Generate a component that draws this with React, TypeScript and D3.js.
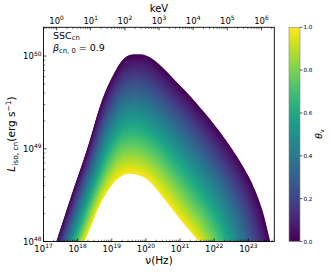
import React from "react";
import * as d3 from "d3";

// ---- data (log10 values) ----
const nuTickExps = [17, 18, 19, 20, 21, 22, 23];
const keVTickExps = [0, 1, 2, 3, 4, 5, 6];
const lumTickExps = [48, 49, 50];
const cbTicks = [0, 0.2, 0.4, 0.6, 0.8, 1.0];

// outermost spectrum (theta_v = 0)
const outerLogNu = [17.375, 17.82, 18.27, 18.72, 19.12, 19.41, 19.8, 20.1, 20.42, 20.9, 21.39, 22.27, 23.01, 23.4, 23.64];
const outerLogL = [48.0, 48.5, 48.99, 49.53, 49.85, 49.99, 50.02, 49.99, 49.9, 49.72, 49.53, 49.13, 48.7, 48.35, 48.0];
// innermost spectrum (theta_v = 1)
const innerLogNu = [18.21, 18.41, 18.66, 18.95, 19.19, 19.52, 20.03, 20.51, 21.0, 21.55];
const innerLogL = [48.0, 48.18, 48.4, 48.58, 48.68, 48.73, 48.67, 48.47, 48.24, 48.0];

const KEV_HZ = 2.418e17;
const W = 332;
const H = 272;
const L = 43.5, R = 274.3, T = 27.3, B = 241.5;
const FONT = "DejaVu Sans";

const x = d3.scaleLog().domain([1e17, Math.pow(10, 23.76)]).range([L, R]);
const y = d3.scaleLog().domain([1e48, Math.pow(10, 50.31)]).range([B, T]);

function hermite(xs: number[], ys: number[], xv: number): number {
  const n = xs.length;
  let i = 0;
  while (i < n - 2 && xv > xs[i + 1]) i++;
  const slope = (k: number) => {
    if (k === 0) return (ys[1] - ys[0]) / (xs[1] - xs[0]);
    if (k === n - 1) return (ys[n - 1] - ys[n - 2]) / (xs[n - 1] - xs[n - 2]);
    return (ys[k + 1] - ys[k - 1]) / (xs[k + 1] - xs[k - 1]);
  };
  const h = xs[i + 1] - xs[i];
  const t = Math.max(0, Math.min(1, (xv - xs[i]) / h));
  const m0 = slope(i) * h, m1 = slope(i + 1) * h;
  const t2 = t * t, t3 = t2 * t;
  return (2 * t3 - 3 * t2 + 1) * ys[i] + (t3 - 2 * t2 + t) * m0 + (-2 * t3 + 3 * t2) * ys[i + 1] + (t3 - t2) * m1;
}

function peakIdx(ys: number[]) {
  let k = 0;
  ys.forEach((v, i) => { if (v > ys[k]) k = i; });
  return k;
}

const NS = 70;
function blendCurve(s: number): [number, number][] {
  const po = peakIdx(outerLogL), pi = peakIdx(innerLogL);
  const pts: [number, number][] = [];
  const seg = (oa: number, ob: number, ia: number, ib: number, skipFirst: boolean) => {
    for (let j = skipFirst ? 1 : 0; j <= NS; j++) {
      const u = j / NS;
      const xo = oa + (ob - oa) * u, xi = ia + (ib - ia) * u;
      const yo = hermite(outerLogNu, outerLogL, xo), yi = hermite(innerLogNu, innerLogL, xi);
      pts.push([xo + (xi - xo) * s, yo + (yi - yo) * s]);
    }
  };
  seg(outerLogNu[0], outerLogNu[po], innerLogNu[0], innerLogNu[pi], false);
  seg(outerLogNu[po], outerLogNu[outerLogNu.length - 1], innerLogNu[pi], innerLogNu[innerLogNu.length - 1], true);
  return pts;
}

const area = d3
  .area<[number, number]>()
  .x((d) => x(Math.pow(10, d[0])))
  .y0(y(1e48))
  .y1((d) => y(Math.pow(10, Math.min(d[1], 50.31))));

const NB = 120;
const thetas = d3.range(NB).map((i) => i / NB);

function minorTicks(lo: number, hi: number, conv: (v: number) => number, min: number, max: number) {
  const out: number[] = [];
  for (let e = lo; e <= hi; e++) {
    for (let m = 2; m <= 9; m++) {
      const v = m * Math.pow(10, e);
      const px = conv(v);
      if (px >= min && px <= max) out.push(px);
    }
  }
  return out;
}

function Pow({ base, exp, x: tx, y: ty, anchor, size }: { base: string; exp: string; x: number; y: number; anchor: string; size: number }) {
  return (
    <text x={tx} y={ty} textAnchor={anchor} fontSize={size} fontFamily={FONT} fill="#000">
      {base}
      <tspan fontSize={size * 0.7} dy={-size * 0.4}>{exp}</tspan>
    </text>
  );
}

export default function App() {
  const xMinor = minorTicks(16, 23, (v) => x(v), L + 0.5, R - 0.5);
  const topMinor = minorTicks(-1, 6, (v) => x(v * KEV_HZ), L + 0.5, R - 0.5);
  const yMinor = minorTicks(48, 50, (v) => y(v), T + 0.5, B - 0.5);
  const cbX0 = 289, cbX1 = 300;
  const cbScale = d3.scaleLinear().domain([0, 1]).range([B, T]);
  const stops = d3.range(0, 21).map((i) => i / 20);
  return (
    <svg width={W} height={H} style={{ position: "absolute", left: 0, top: 0, background: "#fff" }}>
      <defs>
        <linearGradient id="cbg" x1="0" y1="1" x2="0" y2="0">
          {stops.map((t) => (
            <stop key={t} offset={t} stopColor={d3.interpolateViridis(t)} />
          ))}
        </linearGradient>
        <clipPath id="plotclip">
          <rect x={L} y={T} width={R - L} height={B - T} />
        </clipPath>
      </defs>
      <g clipPath="url(#plotclip)">
        {thetas.map((th) => (
          <path key={th} d={area(blendCurve(th)) || ""} fill={d3.interpolateViridis(th)} />
        ))}
        <path d={area(blendCurve(1)) || ""} fill="#fff" />
      </g>
      {/* frame */}
      <rect x={L} y={T} width={R - L} height={B - T} fill="none" stroke="#000" strokeWidth={0.9} />
      {/* bottom ticks */}
      {nuTickExps.map((e) => (
        <g key={"b" + e}>
          <line x1={x(10 ** e)} x2={x(10 ** e)} y1={B} y2={B - 3} stroke="#000" strokeWidth={0.7} />
          <Pow base="10" exp={String(e)} x={x(10 ** e)} y={251.5} anchor="middle" size={8.5} />
        </g>
      ))}
      {xMinor.map((px, i) => (
        <line key={"bm" + i} x1={px} x2={px} y1={B} y2={B - 1.8} stroke="#000" strokeWidth={0.5} />
      ))}
      {/* top ticks (keV) */}
      {keVTickExps.map((e) => (
        <g key={"t" + e}>
          <line x1={x(10 ** e * KEV_HZ)} x2={x(10 ** e * KEV_HZ)} y1={T} y2={T + 3} stroke="#000" strokeWidth={0.7} />
          <Pow base="10" exp={String(e)} x={x(10 ** e * KEV_HZ)} y={23.5} anchor="middle" size={8.5} />
        </g>
      ))}
      {topMinor.map((px, i) => (
        <line key={"tm" + i} x1={px} x2={px} y1={T} y2={T + 1.8} stroke="#000" strokeWidth={0.5} />
      ))}
      {/* left ticks */}
      {lumTickExps.map((e) => (
        <g key={"l" + e}>
          <line x1={L} x2={L + 3} y1={y(10 ** e)} y2={y(10 ** e)} stroke="#000" strokeWidth={0.7} />
          <Pow base="10" exp={String(e)} x={41.5} y={y(10 ** e) + 3} anchor="end" size={8.5} />
        </g>
      ))}
      {yMinor.map((py, i) => (
        <line key={"lm" + i} x1={L} x2={L + 1.8} y1={py} y2={py} stroke="#000" strokeWidth={0.5} />
      ))}
      {/* axis labels */}
      <text x={159} y={11.5} textAnchor="middle" fontSize={10} fontFamily={FONT}>keV</text>
      <text x={159} y={264} textAnchor="middle" fontSize={10.5} fontFamily={FONT}>ν(Hz)</text>
      <text transform={`translate(15,134) rotate(-90)`} textAnchor="middle" fontSize={10.5} fontFamily={FONT}>
        <tspan fontStyle="italic">L</tspan>
        <tspan fontSize={7.5} dy={2.5}>iso, cn</tspan>
        <tspan dy={-2.5}>(erg s</tspan>
        <tspan fontSize={7.5} dy={-4}>−1</tspan>
        <tspan dy={4}>)</tspan>
      </text>
      {/* annotation */}
      <text x={53} y={39} fontSize={9.5} fontFamily={FONT}>
        SSC<tspan fontSize={6.8} dy={1.2}>cn</tspan>
      </text>
      <text x={53} y={51} fontSize={9.5} fontFamily={FONT}>
        <tspan fontStyle="italic">β</tspan>
        <tspan fontSize={6.8} dy={1.8}>cn, 0</tspan>
        <tspan dy={-1.8}> = 0.9</tspan>
      </text>
      {/* colorbar */}
      <rect x={cbX0} y={T} width={cbX1 - cbX0} height={B - T} fill="url(#cbg)" stroke="#888" strokeWidth={0.6} />
      {cbTicks.map((t) => (
        <g key={"c" + t}>
          <line x1={cbX1} x2={cbX1 + 2.5} y1={cbScale(t)} y2={cbScale(t)} stroke="#000" strokeWidth={0.6} />
          <text x={303.5} y={cbScale(t) + 2} fontSize={5.6} fontFamily={FONT}>{t.toFixed(1)}</text>
        </g>
      ))}
      <text transform={`translate(322,134) rotate(-90)`} textAnchor="middle" fontSize={9} fontFamily={FONT}>
        <tspan fontStyle="italic">θ</tspan>
        <tspan fontSize={6.3} dy={1.8}>v</tspan>
      </text>
    </svg>
  );
}
